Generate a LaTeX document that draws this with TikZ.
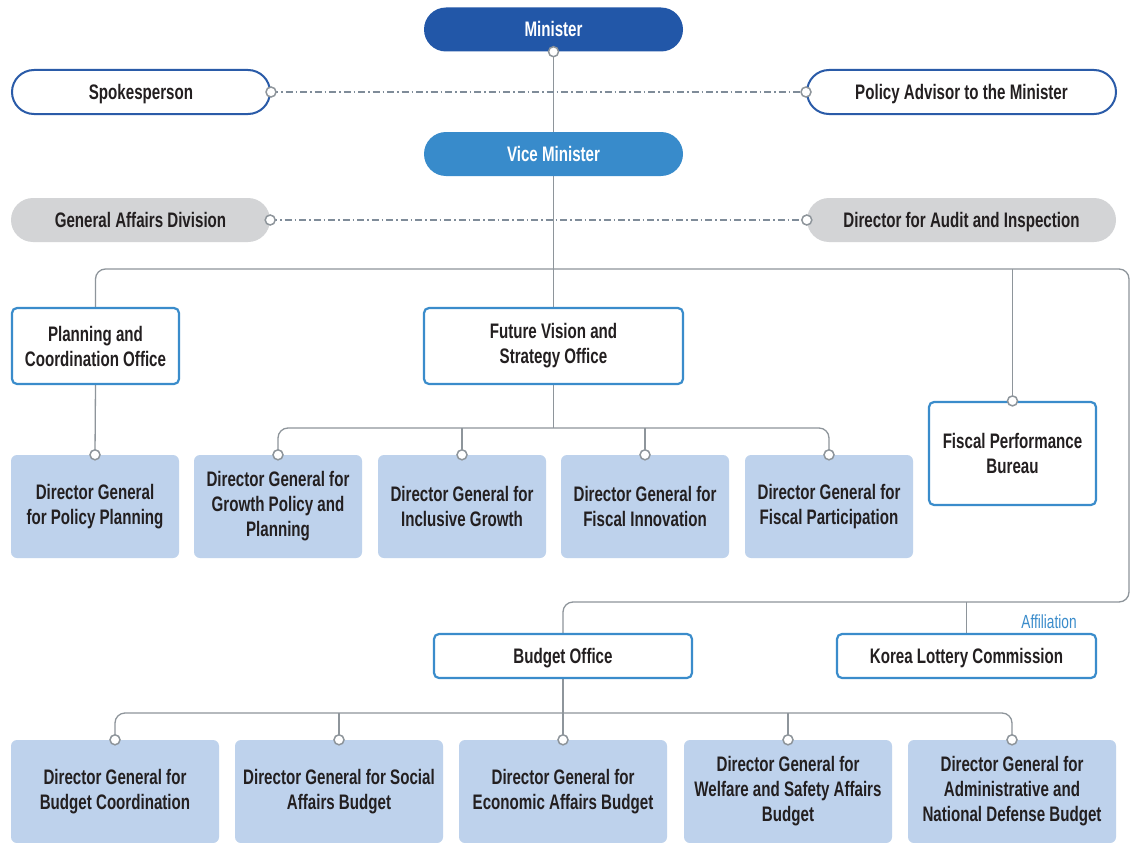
\documentclass[tikz,border=0pt]{standalone}
\usepackage{fontspec}
\setmainfont{Liberation Sans}[FakeStretch=0.72]
\usetikzlibrary{positioning}
\pgfdeclarelayer{background}
\pgfsetlayers{background,main}
\definecolor{minblue}{HTML}{2257A8}
\definecolor{viceblue}{HTML}{388BCB}
\definecolor{spokeblue}{HTML}{2A5BA8}
\definecolor{grayfill}{HTML}{D3D4D6}
\definecolor{officeblue}{HTML}{3A8CCB}
\definecolor{dgblue}{HTML}{BED2EC}
\definecolor{linegray}{HTML}{8E959B}
\definecolor{dashgray}{HTML}{7F8C99}
\definecolor{txt}{HTML}{231F20}
\begin{document}
\begin{tikzpicture}[x=1pt,y=-1pt,
  base/.style={font=\fontsize{21}{25}\selectfont\bfseries, text=txt, align=center, inner sep=0pt},
  oneline/.style={text height=15pt, text depth=0pt},
  pill/.style={base, oneline, rounded corners=22pt, minimum height=44pt},
  pillout/.style={pill, draw=spokeblue, line width=2pt, fill=white},
  pillgray/.style={pill, fill=grayfill},
  officebox/.style={base, draw=officeblue, line width=2.2pt, fill=white, rounded corners=5pt},
  dgbox/.style={base, fill=dgblue, rounded corners=6pt, minimum width=168pt, minimum height=103pt},
  dgboxb/.style={base, fill=dgblue, rounded corners=6pt, minimum width=208pt, minimum height=103pt},
  conn/.style={draw=linegray, line width=1.3pt},
  dashdot/.style={draw=dashgray, line width=1.1pt, dash pattern=on 7pt off 3pt on 1.5pt off 3pt},
  dot/.style={circle, draw=linegray, fill=white, line width=1.5pt, inner sep=0pt, minimum size=10pt}
]
\useasboundingbox (0,0) rectangle (1130,843);

% top level
\node[pill, fill=minblue, text=white, minimum width=259pt] (min) at (553.5,29.5) {Minister};
\node[pillout, minimum width=258pt] (spoke) at (141,92) {Spokesperson};
\node[pillout, minimum width=309pt] (policy) at (961.5,92) {Policy Advisor to the Minister};
\node[pill, fill=viceblue, text=white, minimum width=259pt] (vice) at (553.5,154) {Vice Minister};
\node[pillgray, minimum width=259pt] (genaff) at (140.5,220) {General Affairs Division};
\node[pillgray, minimum width=309pt] (audit) at (961.5,220) {Director for Audit and Inspection};

% offices
\node[officebox, minimum width=167pt, minimum height=76pt] (plan) at (95.5,346) {Planning and\\Coordination Office};
\node[officebox, minimum width=259pt, minimum height=76pt] (future) at (553.5,346) {Future Vision and\\Strategy Office};
\node[officebox, minimum width=167pt, minimum height=103pt] (fiscal) at (1012.5,453.5) {Fiscal Performance\\Bureau};

% DG row 1
\node[dgbox] (dga) at (95,506.5) {Director General\\for Policy Planning};
\node[dgbox] (dgb) at (278,506.5) {Director General for\\Growth Policy and\\Planning};
\node[dgbox] (dgc) at (462,506.5) {Director General for\\Inclusive Growth};
\node[dgbox] (dgd) at (645,506.5) {Director General for\\Fiscal Innovation};
\node[dgbox] (dge) at (829,506.5) {Director General for\\Fiscal Participation};

% budget
\node[officebox, oneline, minimum width=258pt, minimum height=44pt] (budget) at (563,656) {Budget Office};
\node[officebox, oneline, minimum width=259pt, minimum height=44pt] (lottery) at (966.5,656) {Korea Lottery Commission};
\node[font=\fontsize{19}{22}\selectfont, text=officeblue, inner sep=0pt] (affil) at (1049,622) {Affiliation};

% DG row 2
\node[dgboxb] (bga) at (115,791.5) {Director General for\\Budget Coordination};
\node[dgboxb] (bgb) at (339,791.5) {Director General for Social\\Affairs Budget};
\node[dgboxb] (bgc) at (563,791.5) {Director General for\\Economic Affairs Budget};
\node[dgboxb] (bgd) at (788,791.5) {Director General for\\Welfare and Safety Affairs\\Budget};
\node[dgboxb] (bge) at (1012,791.5) {Director General for\\Administrative and\\National Defense Budget};

\coordinate (topline) at (0,269);
\coordinate (botline) at (1129,602);
\coordinate (fj) at (553.5,428);
\coordinate (bj) at (563,713);

\begin{pgfonlayer}{background}
  \fill[white] (0,0) rectangle (1130,843);
  \draw[conn] (min.south) -- (future.north);
  \draw[dashdot] (spoke.east) -- (policy.west);
  \draw[dashdot] (genaff.east) -- (audit.west);
  \draw[conn, rounded corners=10pt] (plan.north) -- (plan.north |- topline) -- (botline |- topline) -- (botline) -- (budget.north |- botline) -- (budget.north);
  \draw[conn] (plan.south) -- (dga.north);
  \draw[conn] (fiscal.north) -- (fiscal.north |- topline);
  \draw[conn] (lottery.north) -- (lottery.north |- botline);
  \draw[conn] (future.south) -- (fj);
  \draw[conn, rounded corners=10pt] (dgb.north) |- (fj) -| (dge.north);
  \draw[conn] (dgc.north) -- (dgc.north |- fj);
  \draw[conn] (dgd.north) -- (dgd.north |- fj);
  \draw[conn] (budget.south) -- (bgc.north);
  \draw[conn, rounded corners=10pt] (bga.north) |- (bj) -| (bge.north);
  \draw[conn] (bgb.north) -- (bgb.north |- bj);
  \draw[conn] (bgd.north) -- (bgd.north |- bj);
\end{pgfonlayer}

% connector dots
\node[dot] (c0) at (min.south) {};
\node[dot] (c1) at (spoke.east) {};
\node[dot] (c2) at (policy.west) {};
\node[dot] (c3) at (genaff.east) {};
\node[dot] (c4) at (audit.west) {};
\node[dot] (c5) at (fiscal.north) {};
\node[dot] (c6) at (dga.north) {};
\node[dot] (c7) at (dgb.north) {};
\node[dot] (c8) at (dgc.north) {};
\node[dot] (c9) at (dgd.north) {};
\node[dot] (c10) at (dge.north) {};
\node[dot] (c11) at (bga.north) {};
\node[dot] (c12) at (bgb.north) {};
\node[dot] (c13) at (bgc.north) {};
\node[dot] (c14) at (bgd.north) {};
\node[dot] (c15) at (bge.north) {};
\end{tikzpicture}
\end{document}
